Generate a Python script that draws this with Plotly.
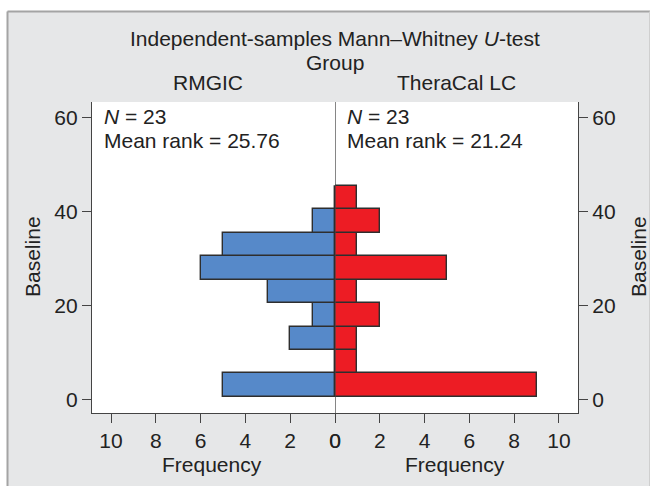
import plotly.graph_objects as go

# ---- data ----
bin_centers = [3, 8, 13, 18, 23, 28, 33, 38, 43]
bin_width = 5
rmgic_freq = [5, 0, 2, 1, 3, 6, 5, 1, 0]
theracal_freq = [9, 1, 1, 2, 1, 5, 1, 2, 1]
group_names = ["RMGIC", "TheraCal LC"]
n_values = [23, 23]
mean_ranks = [25.76, 21.24]
freq_ticks = [0, 2, 4, 6, 8, 10]
baseline_ticks = [0, 20, 40, 60]

W, H = 650, 486
L, R, T, B = 92, 72, 102, 73
PW, PH = W - L - R, H - T - B


def px(x):
    return (x - L) / PW


def py(y):
    return (H - B - y) / PH


FONT = "Liberation Sans, Arial, sans-serif"
TXT = "#222222"
AX = "#444444"
FS = 21

fig = go.Figure()
fig.add_trace(go.Bar(
    y=bin_centers, x=rmgic_freq, orientation="h", width=bin_width,
    marker=dict(color="#5689c9", line=dict(color="#2e2e2e", width=1.4)),
    xaxis="x", yaxis="y", showlegend=False, hoverinfo="skip"))
fig.add_trace(go.Bar(
    y=bin_centers, x=theracal_freq, orientation="h", width=bin_width,
    marker=dict(color="#ed1c24", line=dict(color="#2e2e2e", width=1.4)),
    xaxis="x2", yaxis="y2", showlegend=False, hoverinfo="skip"))

xr = 10.85
yr = [-2.92, 63.35]
common_x = dict(tickvals=freq_ticks, ticks="outside", ticklen=9, tickwidth=1.2,
                tickcolor=AX, showline=True, linecolor=AX, linewidth=1.2,
                showgrid=False, zeroline=False,
                tickfont=dict(family=FONT, size=FS, color=TXT))
common_y = dict(tickvals=baseline_ticks, ticks="outside", ticklen=9, tickwidth=1.2,
                tickcolor=AX, showline=True, linecolor=AX, linewidth=1.2,
                showgrid=False, zeroline=False, range=yr,
                tickfont=dict(family=FONT, size=FS, color=TXT))

fig.update_layout(
    width=W, height=H,
    margin=dict(l=L, r=R, t=T, b=B, pad=0),
    paper_bgcolor="#e6e7e8", plot_bgcolor="white",
    font=dict(family=FONT, size=FS, color=TXT),
    xaxis=dict(domain=[0, 0.5], range=[xr, 0], anchor="y", **common_x),
    xaxis2=dict(domain=[0.5, 1], range=[0, xr], anchor="y2", **common_x),
    yaxis=dict(domain=[0, 1], anchor="x", side="left", **common_y),
    yaxis2=dict(domain=[0, 1], anchor="x2", side="right", **common_y),
    bargap=0,
)

shapes = []
# white strips outside framed box
shapes.append(dict(type="rect", xref="paper", yref="paper", x0=px(-5), x1=px(660),
                   y0=py(11), y1=py(-5), fillcolor="white", line=dict(width=0), layer="below"))
shapes.append(dict(type="rect", xref="paper", yref="paper", x0=px(-5), x1=px(7),
                   y0=py(495), y1=py(-5), fillcolor="white", line=dict(width=0), layer="below"))
# frame border
shapes.append(dict(type="line", xref="paper", yref="paper", x0=px(7.5), x1=px(660),
                   y0=py(11.5), y1=py(11.5), line=dict(color="#a4a4a4", width=2), layer="below"))
shapes.append(dict(type="line", xref="paper", yref="paper", x0=px(7.5), x1=px(7.5),
                   y0=py(11.5), y1=py(495), line=dict(color="#a4a4a4", width=2), layer="below"))
shapes.append(dict(type="line", xref="paper", yref="paper", x0=px(649.5), x1=px(649.5),
                   y0=py(11.5), y1=py(495), line=dict(color="#cfcfcf", width=1), layer="below"))
# centre line
shapes.append(dict(type="line", xref="x2", yref="paper", x0=0, x1=0, y0=0, y1=1,
                   line=dict(color=AX, width=1.3), layer="above"))
fig.update_layout(shapes=shapes)

ann = []


def add_text(text, x, y, xanchor="center", angle=0):
    ann.append(dict(text=text, x=px(x), y=py(y), xref="paper", yref="paper",
                    xanchor=xanchor, yanchor="middle", showarrow=False,
                    textangle=angle, font=dict(family=FONT, size=FS, color=TXT)))


add_text("Independent-samples Mann\u2013Whitney <i>U</i>-test", 334.7, 38)
add_text("Group", 334.7, 63)
add_text(group_names[0], 208.3, 82)
add_text(group_names[1], 456, 82)
add_text(f"<i>N</i> = {n_values[0]}", 101.7, 117, xanchor="left")
add_text(f"Mean rank = {mean_ranks[0]:.2f}", 101.7, 140, xanchor="left")
add_text(f"<i>N</i> = {n_values[1]}", 345, 117, xanchor="left")
add_text(f"Mean rank = {mean_ranks[1]:.2f}", 345, 140, xanchor="left")
add_text("Frequency", 211.7, 464.5)
add_text("Frequency", 455, 464.5)
add_text("Baseline", 32, 257, angle=-90)
add_text("Baseline", 638, 257, angle=-90)
fig.update_layout(annotations=ann)

fig.write_html(
    "out.html",
    config={"displayModeBar": False},
    post_script="document.body.style.margin='0';document.body.style.overflow='hidden';",
)
